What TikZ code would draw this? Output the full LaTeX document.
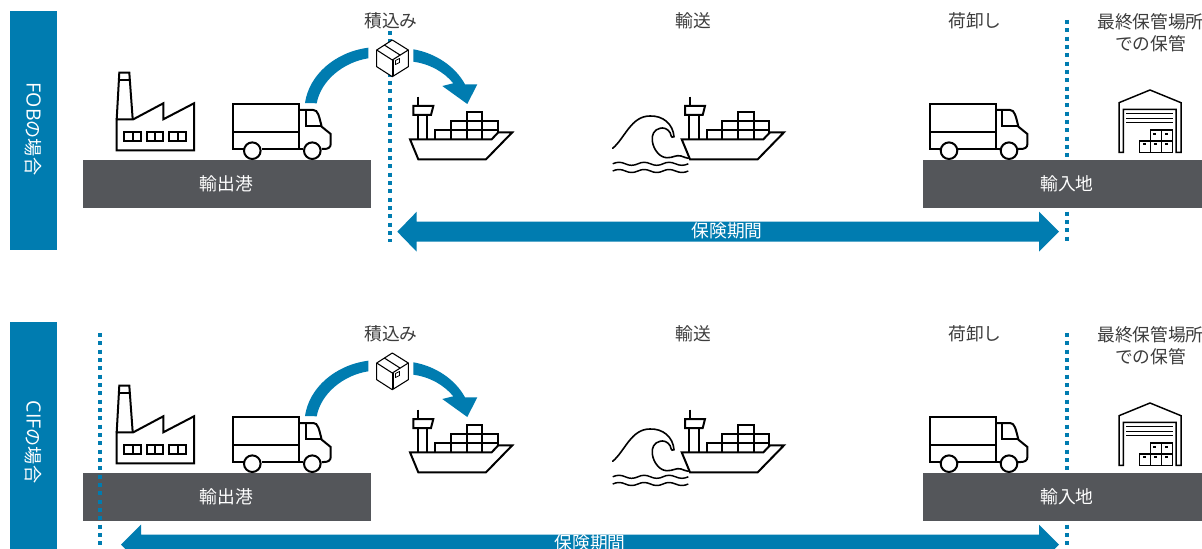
\documentclass[tikz,border=0pt]{standalone}
\usepackage{fontspec}
\setmainfont{Noto Sans CJK JP}
\newfontfamily\latinfont[Scale=1.08]{Open Sans}
\definecolor{brandblue}{RGB}{0,124,176}
\definecolor{bargray}{RGB}{84,86,90}
\definecolor{labeltext}{RGB}{60,60,60}
\tikzset{
  icon/.style={draw=black,line width=1.5pt,line join=miter,fill=none},
  thin icon/.style={draw=black,line width=0.8pt,line join=round},
  dots/.style={draw=brandblue,line width=3pt,dash pattern=on 3pt off 3.25pt},
  bartext/.style={text=white,font=\fontsize{13.3pt}{15pt}\selectfont,inner sep=0pt},
  headtext/.style={text=labeltext,font=\fontsize{13.3pt}{16.5pt}\selectfont,inner sep=0pt,align=center},
  sidetext/.style={rotate=-90,text=white,inner sep=0pt,font=\fontsize{13.6pt}{15pt}\selectfont},
  pics/factory/.style={code={
    \draw[icon] (116.7,119.3) -- (119.3,72.7) -- (129.3,72.7) -- (132.7,119.3);
    \draw[icon] (118.5,80) -- (130,80);
    \draw[icon] (116.7,119.3) -- (116.7,150.3) -- (194,150.3) -- (194,103.3) -- (163.3,119.3) -- (163.3,103.3) -- (133.3,119.3) -- cycle;
    \foreach \wx in {124.3,146.7,169.3}{
      \draw[icon] (\wx,132.3) rectangle ++(16.7,9);
      \draw[icon] ({\wx+8.3},132.3) -- ++(0,9);
    }
  }},
  pics/truck/.style={code={
    \draw[icon] (244,149) -- (233.3,149) -- (233.3,104) -- (299,104) -- (299,149);
    \draw[icon] (233.3,132.3) -- (299,132.3);
    \draw[icon] (261.7,149) -- (303.3,149);
    \draw[icon] (252.3,150.7) circle[radius=8.3];
    \draw[icon] (312.3,150.7) circle[radius=8.3];
    \draw[icon] (299,110) -- (313.3,110) .. controls (318,110) and (319,116) .. (321.7,126.7) -- (330.7,134) -- (330.7,144) .. controls (330.7,147.5) and (328,149) .. (324,149) -- (321.5,149);
    \draw[icon] (305.7,110.5) -- (305.7,126) -- (322,126);
  }},
  pics/ship/.style={code={
    \draw[icon] (410,139.3) -- (418.3,159.3) -- (486,159.3) -- (512.3,132.3) -- (498.3,132.3) -- (491.7,139.3) -- cycle;
    \draw[icon] (417.7,115) -- (417.7,139.3);
    \draw[icon] (427.3,115) -- (427.3,139.3);
    \draw[icon] (413.3,106) -- (433.3,106) -- (431,115) -- (413.3,115) -- cycle;
    \draw[icon] (418,96.7) -- (418,106);
    \draw[icon] (435,139.3) -- (435,130) -- (498.3,130);
    \draw[icon] (450.7,139.3) -- (450.7,121) -- (497.7,121) -- (497.7,133);
    \draw[icon] (466.7,139.3) -- (466.7,111.7) -- (482.3,111.7) -- (482.3,139.3);
  }},
  pics/wave/.style={code={
    \draw[icon,line width=1.2pt,line cap=round] (612.7,148.3) .. controls (625,138) and (631,116) .. (650,116) .. controls (663,115.5) and (673,124) .. (674,136.7) .. controls (671,138.5) and (671,135) .. (670,132.5) .. controls (667,128) and (663,127.5) .. (660,128.3) .. controls (654,129.5) and (651.5,135) .. (652.3,141) .. controls (653.5,150) and (660,157.7) .. (667,157.7) .. controls (673,158) and (676,154.5) .. (681,156) .. controls (684,157) and (686,158) .. (688.3,158.3);
    \foreach \wy in {163.8,171}{
      \draw[icon,line width=1.1pt] (612.7,\wy) .. controls (617,\wy-2) and (621,\wy-2) .. (625.3,\wy) .. controls (629.5,\wy+2) and (633.5,\wy+2) .. (638,\wy) .. controls (642,\wy-2) and (646,\wy-2) .. (650.5,\wy) .. controls (654.5,\wy+2) and (659,\wy+2) .. (663,\wy) .. controls (667,\wy-2) and (671,\wy-2) .. (675.5,\wy) .. controls (680,\wy+2) and (684,\wy+2) .. (688.3,\wy);
    }
  }},
  pics/package/.style={code={
    \draw[thin icon,fill=white] (392.3,40) -- (408.3,50) -- (408.3,66.7) -- (392.3,76.7) -- (376.7,66.7) -- (376.7,50) -- cycle;
    \draw[thin icon] (376.7,50) -- (392.3,60) -- (408.3,50);
    \draw[thin icon] (392.3,60) -- (392.3,76.7);
    \draw[thin icon] (393.8,60) -- (393.8,75.7);
    \draw[thin icon] (384.3,45) -- (400,55);
    \draw[thin icon,line width=0.6pt] (395.5,60.5) -- (399.5,58.5) -- (399.5,62.5) -- (395.5,64.5) -- cycle;
  }},
  pics/warehouse/.style={code={
    \draw[icon,line width=1.1pt] (1119,152.3) -- (1119,102.7) -- (1150,90) -- (1181,102.7) -- (1181,152.3) -- (1176,152.3) -- (1176,109.3) -- (1123.3,109.3) -- (1123.3,152.3) -- cycle;
    \draw[icon,line width=1.1pt] (1126,113.3) -- (1173.3,113.3);
    \draw[icon,line width=1.1pt] (1126,118.3) -- (1173.3,118.3);
    \draw[icon,line width=1.1pt] (1126,122.7) -- (1173.3,122.7);
    \draw[icon,line width=1pt] (1150.7,130) rectangle (1172.7,152.3);
    \draw[icon,line width=1pt] (1139.3,141) rectangle (1172.7,152.3);
    \draw[icon,line width=1pt] (1161.7,130) -- (1161.7,152.3);
    \draw[icon,line width=1pt] (1150.7,141) -- (1150.7,152.3);
    \foreach \bx/\by in {1153.3/132.7,1165/132.7,1142.7/143.3,1153.5/143.3,1165/143.3}{
      \fill[black] (\bx,\by) rectangle ++(3,2);
    }
  }},
}
\newcommand{\sharedpanel}{%
  \fill[bargray] (82.5,160) rectangle (370.5,208);
  \fill[bargray] (923,160) rectangle (1202,208);
  \node[bartext] (exportport) at (226.5,184) {輸出港};
  \node[bartext] (importplace) at (1067,184) {輸入地};
  \node[headtext] (loading) at (391,21) {積込み};
  \node[headtext] (transport) at (693,21) {輸送};
  \node[headtext] (unloading) at (975,21) {荷卸し};
  \node[headtext] (finalstore) at (1150.5,33) {最終保管場所\\での保管};
  \pic {factory};
  \pic {truck};
  \pic[shift={(696.7,0)}] {truck};
  \pic {ship};
  \pic[shift={(271.7,0)}] {ship};
  \pic {wave};
  \pic {warehouse};
  \fill[brandblue] (305,103) .. controls (309,75) and (335,52) .. (368.3,47.7) -- (368.3,58.3) .. controls (344,62) and (321,80) .. (316.7,103.3) -- cycle;
  \fill[brandblue] (413.3,49.3) .. controls (435,53) and (455,66) .. (465,84.3) -- (477.3,84.3) -- (467.3,104) -- (442.3,86) -- (453.3,83.3) .. controls (444,72) and (430,64) .. (413.3,61.7) -- cycle;
}
\begin{document}
\begin{tikzpicture}[x=0.75pt,y=-0.75pt]
\useasboundingbox (0,0) rectangle (1202,549);
\clip (0,0) rectangle (1202,549);
\fill[white] (0,0) rectangle (1202,549);

% FOB panel
\fill[brandblue] (10,11) rectangle (57,250);
\node[sidetext] (foblabel) at (33.5,129) {{\latinfont FOB}の場合};
\coordinate (fobdotA) at (390,31);
\coordinate (fobdotB) at (390,242);
\coordinate (fobdotC) at (1067.3,20);
\coordinate (fobdotD) at (1067.3,242);
\draw[dots] (fobdotA) -- (fobdotB);
\draw[dots] (fobdotC) -- (fobdotD);
\sharedpanel
\pic {package};
\fill[brandblue] (397.3,231.7) -- (416.7,211.7) -- (416.7,221.7) -- (1039,221.7) -- (1039,211.7) -- (1059,231.7) -- (1039,251.7) -- (1039,241.7) -- (416.7,241.7) -- (416.7,251.7) -- cycle;
\node[bartext] (fobperiod) at (727,231) {保険期間};

% CIF panel
\begin{scope}[shift={(0,313)}]
\coordinate (cifdotC) at (1067.3,20);
\coordinate (cifdotD) at (1067.3,242);
\draw[dots] (cifdotC) -- (cifdotD);
\sharedpanel
\pic {package};
\end{scope}
\fill[brandblue] (10,322) rectangle (57,560);
\node[sidetext] (ciflabel) at (33.5,442) {{\latinfont CIF}の場合};
\coordinate (cifdotA) at (100,333);
\coordinate (cifdotB) at (100,560);
\draw[dots] (cifdotA) -- (cifdotB);
\fill[brandblue] (121,544.7) -- (141,524.7) -- (141,534.7) -- (1039,534.7) -- (1039,524.7) -- (1059,544.7) -- (1039,564.7) -- (1039,554.7) -- (141,554.7) -- (141,564.7) -- cycle;
\node[bartext] (cifperiod) at (590,543) {保険期間};
\end{tikzpicture}
\end{document}
